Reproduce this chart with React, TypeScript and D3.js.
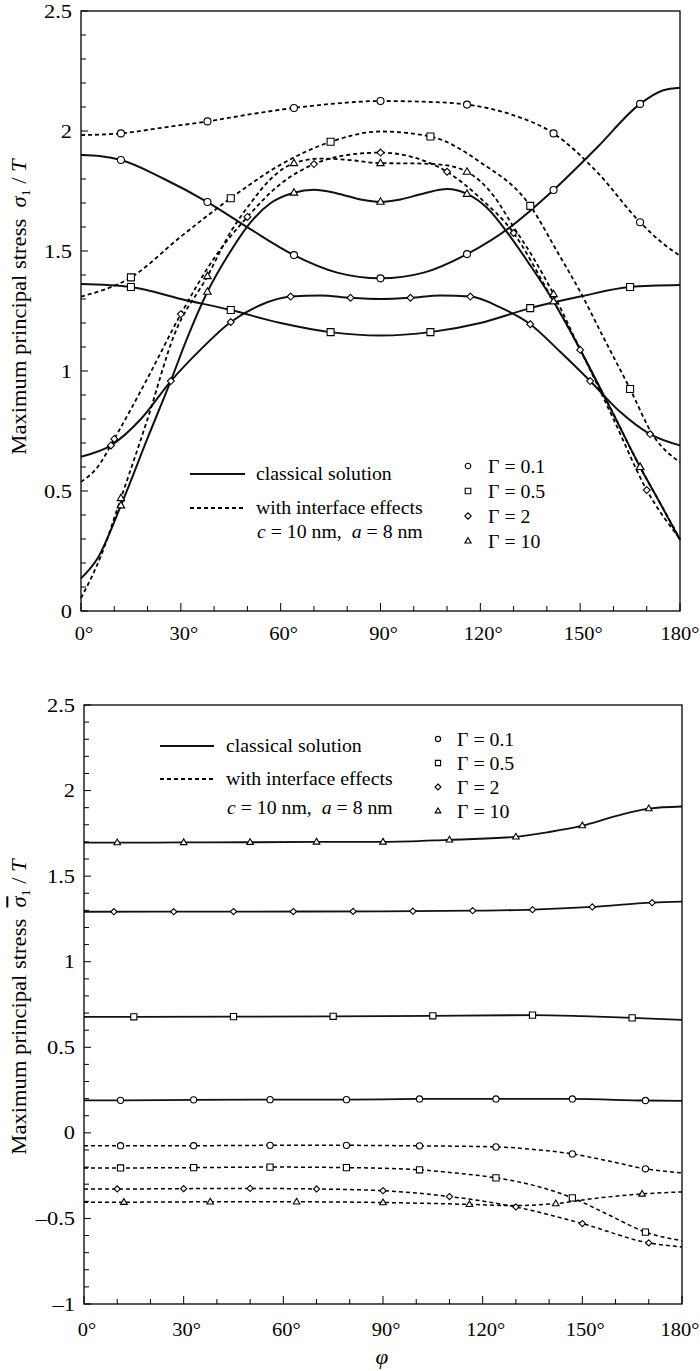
import React from 'react';
import * as d3 from 'd3';

type Pt = [number, number];

// ---------- data: top panel (sigma_1 / T) ----------
const topC01: Pt[] = [[0, 1.9], [6, 1.895], [12, 1.879], [25, 1.8], [38, 1.704], [51, 1.59], [64, 1.483], [77, 1.41], [90, 1.386], [103, 1.41], [116, 1.487], [129, 1.6], [142, 1.754], [155, 1.93], [168, 2.113], [175, 2.17], [180, 2.18]];
const topI01: Pt[] = [[0, 1.983], [12, 1.99], [25, 2.015], [38, 2.04], [51, 2.07], [64, 2.096], [77, 2.115], [90, 2.125], [103, 2.122], [116, 2.11], [129, 2.07], [142, 1.99], [155, 1.83], [168, 1.62], [175, 1.53], [180, 1.48]];
const topC05: Pt[] = [[0, 1.362], [15, 1.35], [30, 1.3], [45, 1.254], [60, 1.2], [75, 1.162], [90, 1.148], [105, 1.162], [120, 1.2], [135, 1.262], [150, 1.31], [165, 1.35], [180, 1.358]];
const topI05: Pt[] = [[0, 1.31], [15, 1.39], [30, 1.56], [45, 1.72], [60, 1.86], [75, 1.955], [90, 1.998], [105, 1.977], [120, 1.87], [135, 1.688], [143, 1.5], [150, 1.33], [157, 1.14], [165, 0.925], [172, 0.73], [180, 0.62]];
const topC2: Pt[] = [[0, 0.643], [9, 0.69], [18, 0.8], [27, 0.958], [36, 1.09], [45, 1.204], [54, 1.275], [63, 1.31], [72, 1.315], [81, 1.305], [90, 1.3], [99, 1.305], [108, 1.315], [117, 1.31], [126, 1.265], [135, 1.195], [144, 1.08], [153, 0.958], [162, 0.83], [171, 0.737], [180, 0.69]];
const topI2: Pt[] = [[0, 0.538], [5, 0.6], [10, 0.717], [20, 0.97], [30, 1.237], [40, 1.47], [50, 1.642], [60, 1.78], [70, 1.862], [80, 1.9], [90, 1.91], [100, 1.89], [110, 1.83], [120, 1.72], [130, 1.575], [140, 1.34], [150, 1.088], [160, 0.8], [170, 0.504], [180, 0.3]];
const topC10: Pt[] = [[0, 0.136], [5, 0.22], [12, 0.44], [20, 0.72], [27, 0.96], [32, 1.14], [38, 1.33], [45, 1.5], [51, 1.62], [57, 1.7], [64, 1.743], [70, 1.755], [77, 1.74], [84, 1.715], [90, 1.705], [96, 1.715], [103, 1.74], [110, 1.758], [116, 1.738], [122, 1.68], [129, 1.56], [135, 1.44], [142, 1.29], [150, 1.09], [160, 0.82], [168, 0.6], [174, 0.45], [180, 0.296]];
const topI10: Pt[] = [[0, 0.054], [6, 0.23], [12, 0.47], [20, 0.8], [28, 1.15], [38, 1.395], [45, 1.58], [51, 1.7], [57, 1.8], [64, 1.866], [72, 1.885], [80, 1.88], [90, 1.866], [100, 1.865], [108, 1.86], [116, 1.83], [124, 1.73], [130, 1.6], [136, 1.47], [142, 1.32], [150, 1.09], [160, 0.82], [168, 0.6], [174, 0.45], [180, 0.3]];

const topC01Marks: Pt[] = [[12, 1.879], [38, 1.704], [64, 1.483], [90, 1.386], [116, 1.487], [142, 1.754], [168, 2.113]];
const topI01Marks: Pt[] = [[12, 1.99], [38, 2.04], [64, 2.096], [90, 2.125], [116, 2.11], [142, 1.99], [168, 1.62]];
const topC05Marks: Pt[] = [[15, 1.35], [45, 1.254], [75, 1.162], [105, 1.162], [135, 1.262], [165, 1.35]];
const topI05Marks: Pt[] = [[15, 1.39], [45, 1.72], [75, 1.955], [105, 1.977], [135, 1.688], [165, 0.925]];
const topC2Marks: Pt[] = [[9, 0.69], [27, 0.958], [45, 1.204], [63, 1.31], [81, 1.305], [99, 1.305], [117, 1.31], [135, 1.195], [153, 0.958], [171, 0.737]];
const topI2Marks: Pt[] = [[10, 0.717], [30, 1.237], [50, 1.642], [70, 1.862], [90, 1.91], [110, 1.83], [130, 1.575], [150, 1.088], [170, 0.504]];
const topC10Marks: Pt[] = [[12, 0.44], [38, 1.33], [64, 1.743], [90, 1.705], [116, 1.738], [142, 1.29], [168, 0.6]];
const topI10Marks: Pt[] = [[12, 0.47], [38, 1.395], [64, 1.866], [90, 1.866], [116, 1.83], [142, 1.32], [168, 0.6]];

// ---------- data: bottom panel (sigma-bar_1 / T) ----------
const botC10: Pt[] = [[0, 1.696], [10, 1.696], [30, 1.697], [50, 1.698], [70, 1.7], [90, 1.7], [110, 1.712], [130, 1.73], [140, 1.758], [150, 1.795], [160, 1.85], [170, 1.895], [180, 1.907]];
const botC2: Pt[] = [[0, 1.292], [45, 1.293], [90, 1.294], [117, 1.298], [135, 1.304], [153, 1.32], [171, 1.345], [180, 1.351]];
const botC05: Pt[] = [[0, 0.678], [15, 0.678], [45, 0.679], [75, 0.681], [105, 0.684], [135, 0.688], [150, 0.682], [165, 0.672], [180, 0.66]];
const botC01: Pt[] = [[0, 0.19], [11, 0.19], [33, 0.193], [56, 0.194], [79, 0.194], [101, 0.198], [124, 0.198], [147, 0.198], [169, 0.189], [180, 0.187]];
const botI01: Pt[] = [[0, -0.075], [11, -0.075], [33, -0.075], [56, -0.073], [79, -0.073], [101, -0.076], [124, -0.082], [136, -0.098], [147, -0.123], [158, -0.165], [169, -0.21], [180, -0.234]];
const botI05: Pt[] = [[0, -0.205], [11, -0.205], [33, -0.203], [56, -0.2], [79, -0.203], [101, -0.216], [112, -0.235], [124, -0.263], [136, -0.31], [147, -0.38], [158, -0.48], [169, -0.58], [180, -0.63]];
const botI2: Pt[] = [[0, -0.328], [10, -0.328], [30, -0.326], [50, -0.325], [70, -0.328], [90, -0.338], [110, -0.372], [130, -0.433], [150, -0.53], [170, -0.643], [180, -0.667]];
const botI10: Pt[] = [[0, -0.405], [12, -0.405], [38, -0.403], [64, -0.403], [90, -0.407], [116, -0.418], [130, -0.425], [142, -0.413], [155, -0.38], [168, -0.357], [180, -0.345]];

const botC10Marks: Pt[] = [[10, 1.696], [30, 1.697], [50, 1.698], [70, 1.7], [90, 1.7], [110, 1.712], [130, 1.73], [150, 1.795], [170, 1.895]];
const botC2Marks: Pt[] = [[9, 1.292], [27, 1.292], [45, 1.293], [63, 1.293], [81, 1.294], [99, 1.295], [117, 1.298], [135, 1.304], [153, 1.32], [171, 1.345]];
const botC05Marks: Pt[] = [[15, 0.678], [45, 0.679], [75, 0.681], [105, 0.684], [135, 0.688], [165, 0.672]];
const botC01Marks: Pt[] = [[11, 0.19], [33, 0.193], [56, 0.194], [79, 0.194], [101, 0.198], [124, 0.198], [147, 0.198], [169, 0.189]];
const botI01Marks: Pt[] = [[11, -0.075], [33, -0.075], [56, -0.073], [79, -0.073], [101, -0.076], [124, -0.082], [147, -0.123], [169, -0.21]];
const botI05Marks: Pt[] = [[11, -0.205], [33, -0.203], [56, -0.2], [79, -0.203], [101, -0.216], [124, -0.263], [147, -0.38], [169, -0.58]];
const botI2Marks: Pt[] = [[10, -0.328], [30, -0.326], [50, -0.325], [70, -0.328], [90, -0.338], [110, -0.372], [130, -0.433], [150, -0.53], [170, -0.643]];
const botI10Marks: Pt[] = [[12, -0.405], [38, -0.403], [64, -0.403], [90, -0.407], [116, -0.418], [142, -0.413], [168, -0.357]];

// ---------- ticks / labels ----------
const xTicks = [0, 30, 60, 90, 120, 150, 180];
const xTickLabels = ['0°', '30°', '60°', '90°', '120°', '150°', '180°'];
const topYTicks = [0, 0.5, 1, 1.5, 2, 2.5];
const topYTickLabels = ['0', '0.5', '1', '1.5', '2', '2.5'];
const botYTicks = [-1, -0.5, 0, 0.5, 1, 1.5, 2, 2.5];
const botYTickLabels = ['\u20131', '\u20130.5', '0', '0.5', '1', '1.5', '2', '2.5'];
const gammaLabels = ['\u0393 = 0.1', '\u0393 = 0.5', '\u0393 = 2', '\u0393 = 10'];
const shapes = ['circle', 'square', 'diamond', 'triangle'];

const FONT = '"Liberation Serif", "Times New Roman", serif';

const symbolPath = (shape: string, s: number) => {
    if (shape === 'circle') return `M${s},0A${s},${s} 0 1,1 ${-s},0A${s},${s} 0 1,1 ${s},0Z`;
    if (shape === 'square') return `M${-s},${-s}H${s}V${s}H${-s}Z`;
    if (shape === 'diamond') return `M0,${-s * 1.15}L${s * 1.15},0L0,${s * 1.15}L${-s * 1.15},0Z`;
    const h = s * 1.9;
    return `M0,${-h * 0.62}L${s * 1.1},${h * 0.38}L${-s * 1.1},${h * 0.38}Z`;
};

const SText = ({x, y, sx = 1.15, size = 19, anchor = 'start', rotate = 0, children, italic = false}: any) => (
    <text
        transform={`translate(${x},${y})${rotate ? ` rotate(${rotate})` : ''} scale(${sx},1)`}
        fontFamily={FONT}
        fontSize={size}
        textAnchor={anchor}
        fontStyle={italic ? 'italic' : 'normal'}
        fill="#000"
    >
        {children}
    </text>
);

const Panel = ({x, y, yTicks, yTickLabels, yMinor, curves, labelBaseline, ms}: any) => {
    const [x0, x1] = x.range();
    const [yb, yt] = y.range();
    const line = d3.line<Pt>().x(d => x(d[0])).y(d => y(d[1])).curve(d3.curveMonotoneX);
    return (
        <g>
            {curves.map((c: any, i: number) => (
                <path key={'l' + i} d={line(c.data) || ''} fill="none" stroke={c.dashed ? '#000' : '#111'}
                      strokeWidth={c.w} strokeDasharray={c.dashed ? '4,3' : undefined}/>
            ))}
            {curves.map((c: any, i: number) => c.marks.map((m: Pt, j: number) => (
                <path key={'m' + i + '-' + j} d={symbolPath(c.shape, ms[c.shape])}
                      transform={`translate(${x(m[0])},${y(m[1])})`} fill="#fff" stroke="#000" strokeWidth={1.1}/>
            )))}
            {/* frame */}
            <rect x={x0} y={yt} width={x1 - x0} height={yb - yt} fill="none" stroke="#000" strokeWidth={1.3}/>
            {/* y ticks */}
            {yMinor.map((v: number) => {
                const major = Math.abs(v * 2 - Math.round(v * 2)) < 1e-6;
                return <line key={'yt' + v} x1={x0} x2={x0 + (major ? 7 : 5)} y1={y(v)} y2={y(v)} stroke="#000" strokeWidth={1}/>;
            })}
            {d3.range(0, 19).map(i => (
                <line key={'xt' + i} x1={x(i * 10)} x2={x(i * 10)} y1={yb} y2={yb - (i % 3 === 0 ? 8 : 5)} stroke="#000" strokeWidth={1}/>
            ))}
            {yTicks.map((v: number, i: number) => (
                <SText key={'yl' + i} x={x0 - 9} y={y(v) + 6.5} anchor="end" sx={1.18}>{yTickLabels[i]}</SText>
            ))}
            {xTicks.map((v, i) => (
                <SText key={'xl' + i} x={Math.min(x(v) + 3, 680)} y={labelBaseline} anchor="middle" sx={1.08}>{xTickLabels[i]}</SText>
            ))}
        </g>
    );
};

const Legend = ({lx1, lx2, tx, rowY, cBase, gx, gtx, gRows, ms}: any) => (
    <g>
        <line x1={lx1} x2={lx2} y1={rowY[0]} y2={rowY[0]} stroke="#111" strokeWidth={2}/>
        <line x1={lx1} x2={lx2} y1={rowY[1]} y2={rowY[1]} stroke="#000" strokeWidth={1.8} strokeDasharray="4,3"/>
        <SText x={tx} y={rowY[0] + 6} size={18} sx={1.1}>classical solution</SText>
        <SText x={tx} y={rowY[1] + 6} size={18} sx={1.1}>with interface effects</SText>
        <SText x={tx + 1} y={cBase} size={18} sx={1.1}>
            <tspan fontStyle="italic">c</tspan> = 10 nm,{'\u00a0\u00a0'}<tspan fontStyle="italic">a</tspan> = 8 nm
        </SText>
        {gRows.map((gy: number, i: number) => (
            <g key={'g' + i}>
                <path d={symbolPath(shapes[i], ms)} transform={`translate(${gx},${gy})`} fill="#fff" stroke="#000" strokeWidth={1.1}/>
                <SText x={gtx} y={gy + 7} size={18} sx={1.1}>{gammaLabels[i]}</SText>
            </g>
        ))}
    </g>
);

const YLabel = ({x, y, bar}: any) => (
    <SText x={x} y={y} rotate={-90} anchor="middle" size={20} sx={1.13}>
        Maximum principal stress{'\u00a0\u00a0'}
        <tspan fontStyle="italic" style={bar ? {textDecoration: 'overline'} : undefined}>{'\u03c3'}</tspan>
        <tspan fontSize={12} dy={4}>1</tspan>
        <tspan dy={-4}>{'\u00a0'}/{'\u00a0'}</tspan>
        <tspan fontStyle="italic">T</tspan>
    </SText>
);

export default function App() {
    const xTop = d3.scaleLinear().domain([0, 180]).range([81, 680]);
    const yTop = d3.scaleLinear().domain([0, 2.5]).range([611, 11]);
    const xBot = d3.scaleLinear().domain([0, 180]).range([84, 682]);
    const yBot = d3.scaleLinear().domain([-1, 2.5]).range([1304, 705]);

    const topCurves = [
        {data: topC01, marks: topC01Marks, shape: 'circle', dashed: false, w: 2},
        {data: topI01, marks: topI01Marks, shape: 'circle', dashed: true, w: 1.8},
        {data: topC05, marks: topC05Marks, shape: 'square', dashed: false, w: 2},
        {data: topI05, marks: topI05Marks, shape: 'square', dashed: true, w: 1.8},
        {data: topC2, marks: topC2Marks, shape: 'diamond', dashed: false, w: 2},
        {data: topI2, marks: topI2Marks, shape: 'diamond', dashed: true, w: 1.8},
        {data: topC10, marks: topC10Marks, shape: 'triangle', dashed: false, w: 2},
        {data: topI10, marks: topI10Marks, shape: 'triangle', dashed: true, w: 1.8},
    ];
    const botCurves = [
        {data: botC10, marks: botC10Marks, shape: 'triangle', dashed: false, w: 1.8},
        {data: botC2, marks: botC2Marks, shape: 'diamond', dashed: false, w: 1.8},
        {data: botC05, marks: botC05Marks, shape: 'square', dashed: false, w: 1.8},
        {data: botC01, marks: botC01Marks, shape: 'circle', dashed: false, w: 1.8},
        {data: botI01, marks: botI01Marks, shape: 'circle', dashed: true, w: 1.5},
        {data: botI05, marks: botI05Marks, shape: 'square', dashed: true, w: 1.5},
        {data: botI2, marks: botI2Marks, shape: 'diamond', dashed: true, w: 1.5},
        {data: botI10, marks: botI10Marks, shape: 'triangle', dashed: true, w: 1.5},
    ];

    return (
        <svg width={700} height={1371} style={{position: 'absolute', left: 0, top: 0, background: '#fff'}}>
            <Panel x={xTop} y={yTop} yTicks={topYTicks} yTickLabels={topYTickLabels}
                   yMinor={d3.range(0, 26).map(i => i / 10)} curves={topCurves} labelBaseline={640}
                   ms={{circle: 3.5, square: 3.5, diamond: 3, triangle: 3.4}}/>
            <Legend lx1={190} lx2={245} tx={256} rowY={[474, 508]} cBase={538}
                    gx={468} gtx={488} gRows={[466, 491, 516, 541]} ms={2.8}/>
            <YLabel x={26} y={307}/>

            <Panel x={xBot} y={yBot} yTicks={botYTicks} yTickLabels={botYTickLabels}
                   yMinor={d3.range(-10, 26).map(i => i / 10)} curves={botCurves} labelBaseline={1336}
                   ms={{circle: 3.1, square: 3.1, diamond: 2.7, triangle: 3}}/>
            <Legend lx1={160} lx2={214} tx={226} rowY={[746, 779]} cBase={814}
                    gx={438} gtx={457} gRows={[739, 763, 787, 811]} ms={2.6}/>
            <YLabel x={26} y={1007} bar/>
            <SText x={382} y={1364} anchor="middle" size={21} sx={1.1} italic>{'\u03c6'}</SText>
        </svg>
    );
}
